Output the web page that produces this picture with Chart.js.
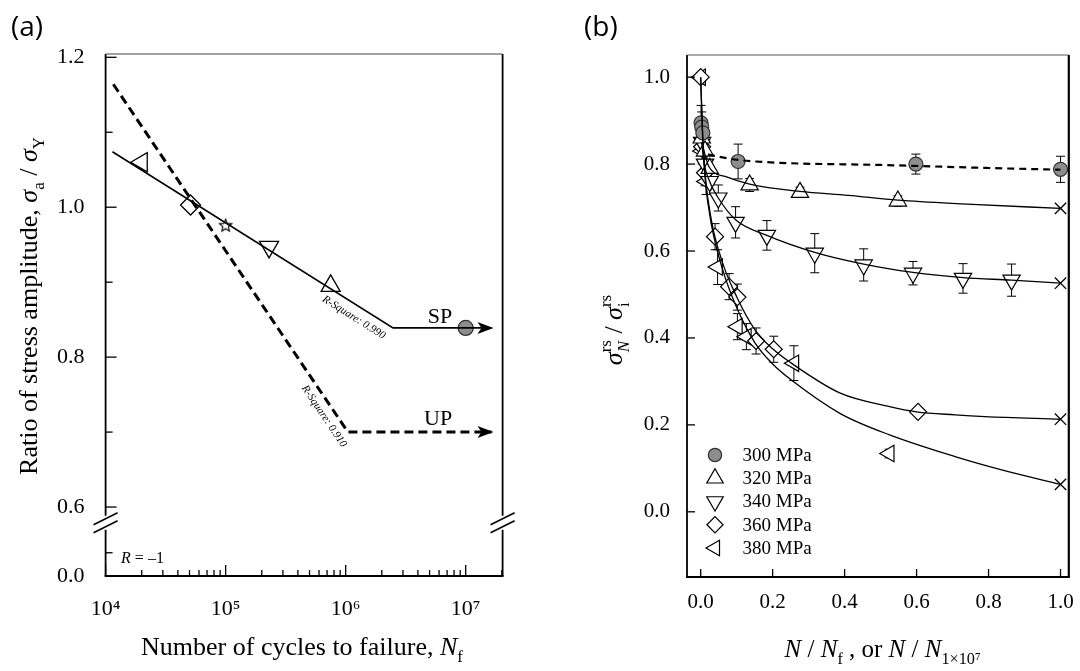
<!DOCTYPE html>
<html>
<head>
<meta charset="utf-8">
<script src="https://cdn.jsdelivr.net/npm/chart.js@4.4.1/dist/chart.umd.min.js"></script>
<style>
  html, body { margin: 0; padding: 0; background: #fff; }
  #wrap { position: relative; width: 1080px; height: 671px; overflow: hidden; }
  canvas { position: absolute; top: 0; }
  #ca { left: 0; }
  #cb { left: 540px; }
</style>
</head>
<body>
<div id="wrap">
  <canvas id="ca" width="540" height="671"></canvas>
  <canvas id="cb" width="540" height="671"></canvas>
</div>
<script>
const SERIF = "'Liberation Serif', 'Times New Roman', serif";
const SANS = "'Open Sans', 'Noto Sans', sans-serif";
Chart.defaults.font.family = SERIF;
Chart.defaults.color = '#000';

// ---------- (a) S-N curves ----------
const A_SP_X = [1.14e4, 2.48e6, 1.64e7];
const A_SP_Y = [1.074, 0.839, 0.839];
const A_UP_X = [1.16e4, 1.045e6, 1.64e7];
const A_UP_Y = [1.164, 0.700, 0.700];
const A_PTS_X = [2.0e4, 5.1e4, 1.0e5, 2.3e5, 7.5e5, 1.0e7];
const A_PTS_Y = [1.060, 1.003, 0.976, 0.947, 0.895, 0.839];
const A_DECADES = [1e4, 1e5, 1e6, 1e7];
const A_DECADE_LABELS = ['10⁴', '10⁵', '10⁶', '10⁷'];
// the first two ticks sit below the axis break (0.0 and 0.1 on the compressed part)
const A_Y_TICKS = [0.508, 0.539, 0.6, 0.7, 0.8, 0.9, 1.0, 1.1, 1.2];
const A_Y_LABELS = ['0.0', '', '0.6', '', '0.8', '', '1.0', '', '1.2'];
const A_BREAK_AT = 0.579;

// ---------- (b) residual stress relaxation ----------
const B_LABELS = ['300 MPa', '320 MPa', '340 MPa', '360 MPa', '380 MPa'];
const B_X_TICKS = [0, 0.2, 0.4, 0.6, 0.8, 1.0];
const B_Y_TICKS = [0, 0.2, 0.4, 0.6, 0.8, 1.0];

const P300_X = [0.001, 0.003, 0.006, 0.104, 0.598, 1.0];
const P300_Y = [0.895, 0.885, 0.872, 0.806, 0.800, 0.788];
const P300_E = [0.04, 0.035, 0.03, 0.04, 0.023, 0.03];
const P320_X = [0.003, 0.012, 0.025, 0.136, 0.276, 0.548];
const P320_Y = [0.860, 0.830, 0.790, 0.752, 0.735, 0.715];
const P320_E = [0.03, 0.03, 0.02, 0.015, 0.012, 0.012];
const P340_X = [0.004, 0.012, 0.025, 0.049, 0.097, 0.184, 0.317, 0.453, 0.590, 0.729, 0.864];
const P340_Y = [0.850, 0.800, 0.760, 0.722, 0.666, 0.636, 0.595, 0.568, 0.549, 0.537, 0.533];
const P340_E = [0.03, 0.03, 0.03, 0.03, 0.036, 0.034, 0.045, 0.037, 0.027, 0.034, 0.037];
const P360_X = [0, 0.004, 0.012, 0.040, 0.079, 0.102, 0.154, 0.203, 0.604];
const P360_Y = [1.0, 0.840, 0.780, 0.633, 0.518, 0.494, 0.393, 0.374, 0.230];
const P360_E = [0.01, 0.03, 0.03, 0.03, 0.03, 0.03, 0.03, 0.03, 0.008];
const P380_X = [0, 0.004, 0.015, 0.047, 0.102, 0.127, 0.259, 0.524];
const P380_Y = [1.0, 0.830, 0.760, 0.563, 0.426, 0.403, 0.342, 0.134];
const P380_E = [0.01, 0.03, 0.03, 0.04, 0.03, 0.03, 0.04, 0.01];

const FIT300_X = [0.02, 0.1, 0.22, 0.5, 0.8, 1.0];
const FIT300_Y = [0.822, 0.810, 0.803, 0.798, 0.791, 0.787];
const FIT320_X = [0.003, 0.023, 0.07, 0.136, 0.276, 0.41, 0.548, 0.74, 1.0];
const FIT320_Y = [0.850, 0.794, 0.771, 0.754, 0.737, 0.728, 0.717, 0.708, 0.698];
const FIT340_X = [0.003, 0.01, 0.025, 0.049, 0.097, 0.184, 0.317, 0.453, 0.59, 0.729, 0.864, 1.0];
const FIT340_Y = [0.850, 0.800, 0.760, 0.722, 0.672, 0.636, 0.597, 0.570, 0.551, 0.539, 0.533, 0.526];
const FIT360_X = [0, 0.005, 0.012, 0.03, 0.06, 0.1, 0.15, 0.2, 0.252, 0.388, 0.525, 0.6, 0.707, 0.79, 1.0];
const FIT360_Y = [1.0, 0.88, 0.78, 0.67, 0.575, 0.495, 0.42, 0.375, 0.342, 0.273, 0.242, 0.230, 0.223, 0.219, 0.213];
const FIT380_X = [0, 0.005, 0.012, 0.03, 0.06, 0.1, 0.15, 0.2, 0.252, 0.388, 0.525, 0.707, 0.834, 1.0];
const FIT380_Y = [1.0, 0.87, 0.77, 0.66, 0.56, 0.47, 0.39, 0.34, 0.303, 0.226, 0.177, 0.127, 0.097, 0.063];

const toXY = (xs, ys) => xs.map((x, i) => ({ x, y: ys[i] }));

// rich text: parts with italic / sub / sup, drawn centred on (x, y) baseline
function partsWidth(ctx, parts, size) {
  let w = 0;
  parts.forEach(p => {
    ctx.font = (p.i ? 'italic ' : '') + size + 'px ' + SERIF;
    p._w = p.t ? ctx.measureText(p.t).width : 0;
    const ss = size * 0.65;
    ctx.font = (p.subI ? 'italic ' : '') + ss + 'px ' + SERIF;
    const a = p.sub ? ctx.measureText(p.sub).width : 0;
    ctx.font = ss + 'px ' + SERIF;
    const b = p.sup ? ctx.measureText(p.sup).width : 0;
    p._sw = Math.max(a, b);
    w += p._w + p._sw;
  });
  return w;
}
function drawParts(ctx, parts, x, y, size, rot, align) {
  ctx.save();
  ctx.translate(x, y);
  if (rot) ctx.rotate(rot);
  ctx.fillStyle = '#000';
  ctx.textAlign = 'left';
  ctx.textBaseline = 'alphabetic';
  const w = partsWidth(ctx, parts, size);
  let cx = align === 'left' ? 0 : -w / 2;
  parts.forEach(p => {
    if (p.t) {
      ctx.font = (p.i ? 'italic ' : '') + size + 'px ' + SERIF;
      ctx.fillText(p.t, cx, 0);
      cx += p._w;
    }
    const ss = size * 0.65;
    if (p.sub) {
      ctx.font = (p.subI ? 'italic ' : '') + ss + 'px ' + SERIF;
      ctx.fillText(p.sub, cx, size * 0.28);
    }
    if (p.sup) {
      ctx.font = ss + 'px ' + SERIF;
      ctx.fillText(p.sup, cx, -size * 0.42);
    }
    cx += p._sw;
  });
  ctx.restore();
}

function line(ctx, x1, y1, x2, y2) {
  ctx.beginPath(); ctx.moveTo(x1, y1); ctx.lineTo(x2, y2); ctx.stroke();
}

function makeStar(r) {
  const c = document.createElement('canvas');
  const s = Math.ceil(r * 2 + 4);
  c.width = c.height = s;
  const g = c.getContext('2d');
  g.translate(s / 2, s / 2 + 0.5);
  g.beginPath();
  for (let k = 0; k < 10; k++) {
    const rr = k % 2 ? r * 0.45 : r;
    const an = -Math.PI / 2 + k * Math.PI / 5;
    g.lineTo(rr * Math.cos(an), rr * Math.sin(an));
  }
  g.closePath();
  g.fillStyle = '#fff'; g.fill();
  g.lineWidth = 1.1; g.strokeStyle = '#000'; g.stroke();
  return c;
}

// ================= panel (a) =================
const panelA = {
  id: 'panelA',
  afterDraw(chart) {
    const { ctx, chartArea: a } = chart;
    const xs = chart.scales.x, ys = chart.scales.y;
    const yb = ys.getPixelForValue(A_BREAK_AT);
    ctx.save();
    ctx.strokeStyle = '#000';

    // frame with a broken y axis
    ctx.lineWidth = 1.8;
    [a.left, a.right].forEach(x0 => {
      line(ctx, x0, a.top, x0, yb - 7);
      line(ctx, x0, yb + 7, x0, a.bottom);
    });
    line(ctx, a.left - 1, a.bottom, a.right + 1, a.bottom);
    ctx.lineWidth = 1; ctx.strokeStyle = '#444';
    line(ctx, a.left, a.top, a.right, a.top);
    ctx.strokeStyle = '#000'; ctx.lineWidth = 1.5;
    [a.left, a.right].forEach(x0 => {
      line(ctx, x0 - 12, yb + 2, x0 + 12, yb - 10);
      line(ctx, x0 - 12, yb + 10, x0 + 12, yb - 2);
    });

    // inward ticks
    ctx.lineWidth = 1.3;
    xs.ticks.forEach(t => {
      const px = xs.getPixelForValue(t.value);
      line(ctx, px, a.bottom, px, a.bottom - (t.label ? 11 : 6));
    });
    ys.ticks.forEach(t => {
      const py = ys.getPixelForValue(t.value);
      line(ctx, a.left, py, a.left + (t.label ? 11 : 7), py);
    });

    // arrow heads at the end of both curves
    [0, 1].forEach(i => {
      const pts = chart.getDatasetMeta(i).data;
      const p = pts[pts.length - 1];
      ctx.fillStyle = '#000';
      ctx.beginPath();
      ctx.moveTo(p.x + 2, p.y);
      ctx.lineTo(p.x - 14, p.y - 6);
      ctx.lineTo(p.x - 10, p.y);
      ctx.lineTo(p.x - 14, p.y + 6);
      ctx.closePath();
      ctx.fill();
    });

    // labels on the curves
    ctx.fillStyle = '#000';
    ctx.font = '22px ' + SERIF;
    ctx.textAlign = 'center'; ctx.textBaseline = 'alphabetic';
    ctx.fillText('SP', xs.getPixelForValue(6.1e6), ys.getPixelForValue(0.845));
    ctx.fillText('UP', xs.getPixelForValue(5.9e6), ys.getPixelForValue(0.709));

    const rsq = (i, t, off, text) => {
      const pts = chart.getDatasetMeta(i).data;
      const p0 = pts[0], p1 = pts[1];
      const ang = Math.atan2(p1.y - p0.y, p1.x - p0.x);
      const cx = p0.x + (p1.x - p0.x) * t - Math.sin(ang) * off;
      const cy = p0.y + (p1.y - p0.y) * t + Math.cos(ang) * off;
      ctx.save();
      ctx.translate(cx, cy); ctx.rotate(ang);
      ctx.font = 'italic 11px ' + SERIF;
      ctx.textAlign = 'center'; ctx.textBaseline = 'middle';
      ctx.fillText(text, 0, 0);
      ctx.restore();
    };
    rsq(0, 0.883, 12, 'R-Square: 0.990');
    rsq(1, 0.937, 11, 'R-Square: 0.910');

    drawParts(ctx, [{ t: 'R', i: true }, { t: ' = \u20131' }], a.left + 15.5, a.bottom - 13, 16, 0, 'left');

    // axis titles and panel tag
    drawParts(ctx, [{ t: 'Number of cycles to failure, ' }, { t: 'N', i: true, sub: 'f' }], 302, 655, 26, 0);
    drawParts(ctx, [{ t: 'Ratio of stress amplitude, ' }, { t: 'σ', i: true, sub: 'a' }, { t: ' / ' }, { t: 'σ', i: true, sub: 'Y' }],
      37, 306, 26, -Math.PI / 2);
    ctx.font = '28px ' + SANS;
    ctx.textAlign = 'left'; ctx.textBaseline = 'alphabetic';
    ctx.fillText('(a)', 11, 36);
    ctx.restore();
  }
};

const starImg = makeStar(6.5);

new Chart(document.getElementById('ca'), {
  type: 'scatter',
  data: {
    datasets: [
      { data: toXY(A_SP_X, A_SP_Y), showLine: true, borderColor: '#000', borderWidth: 1.6, pointRadius: 0 },
      { data: toXY(A_UP_X, A_UP_Y), showLine: true, borderColor: '#000', borderWidth: 3, borderDash: [9, 5], pointRadius: 0 },
      {
        data: toXY(A_PTS_X, A_PTS_Y), showLine: false,
        pointStyle: ['triangle', 'rectRot', starImg, 'triangle', 'triangle', 'circle'],
        pointRotation: [270, 0, 0, 180, 0, 0],
        pointRadius: [11, 10, 7, 11, 11, 7.5],
        pointBackgroundColor: ['#fff', '#fff', '#fff', '#fff', '#fff', '#8d8d8d'],
        pointBorderColor: ['#000', '#000', '#000', '#000', '#000', '#333'],
        pointBorderWidth: 1.3
      }
    ]
  },
  options: {
    responsive: false, animation: false,
    layout: { padding: { left: 0, top: 54, right: 37.4, bottom: 55 } },
    plugins: { legend: { display: false }, tooltip: { enabled: false } },
    scales: {
      x: {
        type: 'logarithmic', min: 1e4, max: 2.03e7,
        grid: { display: false }, border: { display: false },
        afterFit: s => { s.height = 40; },
        afterBuildTicks: s => {
          const t = [];
          A_DECADES.forEach(d => { for (let m = 1; m <= 9; m++) if (m * d <= s.max) t.push({ value: m * d }); });
          s.ticks = t;
        },
        ticks: {
          autoSkip: false, maxRotation: 0, padding: 12, color: '#000',
          font: { size: 22 },
          callback: v => { const i = A_DECADES.indexOf(v); return i >= 0 ? A_DECADE_LABELS[i] : ''; }
        }
      },
      y: {
        type: 'linear', min: 0.508, max: 1.2044,
        grid: { display: false }, border: { display: false },
        afterFit: s => { s.width = 105.6; },
        afterBuildTicks: s => { s.ticks = A_Y_TICKS.map(v => ({ value: v })); },
        ticks: {
          autoSkip: false, padding: 13, color: '#000',
          font: { size: 22 },
          callback: (v, i) => A_Y_LABELS[i]
        }
      }
    }
  },
  plugins: [panelA]
});

// ================= panel (b) =================
const B_MARK = [
  { pointStyle: 'circle', rotation: 0, radius: 7, fill: '#8d8d8d', stroke: '#333' },
  { pointStyle: 'triangle', rotation: 0, radius: 10, fill: '#fff', stroke: '#000' },
  { pointStyle: 'triangle', rotation: 180, radius: 10, fill: '#fff', stroke: '#000' },
  { pointStyle: 'rectRot', rotation: 0, radius: 8.5, fill: '#fff', stroke: '#000' },
  { pointStyle: 'triangle', rotation: 270, radius: 9.5, fill: '#fff', stroke: '#000' }
];

const fitSet = (xs, ys, dashed) => ({
  data: toXY(xs, ys), showLine: true, borderColor: '#000',
  borderWidth: dashed ? 2.2 : 1.3, borderDash: dashed ? [7, 5] : [],
  cubicInterpolationMode: 'monotone',
  pointStyle: 'crossRot', pointBorderColor: '#000', pointBorderWidth: 1.3,
  pointRadius: c => (!dashed && c.dataIndex === xs.length - 1) ? 8 : 0
});
const ptSet = (xs, ys, errs, m) => ({
  data: toXY(xs, ys), errors: errs, showLine: false,
  pointStyle: m.pointStyle, pointRotation: m.rotation, pointRadius: m.radius,
  pointBackgroundColor: m.fill, pointBorderColor: m.stroke, pointBorderWidth: 1.2
});

const errorBars = {
  id: 'errorBars',
  beforeDatasetsDraw(chart) {
    const { ctx } = chart;
    const xs = chart.scales.x, ys = chart.scales.y;
    ctx.save();
    ctx.strokeStyle = '#000'; ctx.lineWidth = 1;
    chart.data.datasets.forEach(ds => {
      if (!ds.errors) return;
      ds.data.forEach((p, i) => {
        const e = ds.errors[i];
        const px = xs.getPixelForValue(p.x);
        const top = ys.getPixelForValue(p.y + e), bot = ys.getPixelForValue(p.y - e);
        line(ctx, px, top, px, bot);
        line(ctx, px - 4.5, top, px + 4.5, top);
        line(ctx, px - 4.5, bot, px + 4.5, bot);
      });
    });
    ctx.restore();
  }
};

const panelB = {
  id: 'panelB',
  afterDraw(chart) {
    const { ctx, chartArea: a } = chart;
    const xs = chart.scales.x, ys = chart.scales.y;
    ctx.save();
    ctx.strokeStyle = '#000';
    ctx.lineWidth = 1.8;
    line(ctx, a.left, a.top, a.left, a.bottom + 1);
    line(ctx, a.left - 1, a.bottom, a.right + 1, a.bottom);
    ctx.lineWidth = 2.2;
    line(ctx, a.right, a.top, a.right, a.bottom);
    ctx.lineWidth = 1; ctx.strokeStyle = '#555';
    line(ctx, a.left, a.top, a.right, a.top);

    ctx.strokeStyle = '#000'; ctx.lineWidth = 1.3;
    xs.ticks.forEach(t => {
      const px = xs.getPixelForValue(t.value);
      line(ctx, px, a.bottom, px, a.bottom - 8);
    });
    ys.ticks.forEach(t => {
      const py = ys.getPixelForValue(t.value);
      line(ctx, a.left, py, a.left + 8, py);
    });

    // legend
    B_MARK.forEach((m, i) => {
      const yy = a.bottom - 122 + i * 23.25;
      ctx.fillStyle = m.fill; ctx.strokeStyle = m.stroke; ctx.lineWidth = 1.2;
      Chart.helpers.drawPoint(ctx, { pointStyle: m.pointStyle, rotation: m.rotation, radius: m.radius * 0.95, borderWidth: 1.2 }, a.left + 28, yy);
      ctx.fillStyle = '#000';
      ctx.font = '19px ' + SERIF;
      ctx.textAlign = 'left'; ctx.textBaseline = 'middle';
      ctx.fillText(B_LABELS[i], a.left + 55.5, yy + 1);
    });

    // axis titles and panel tag
    drawParts(ctx, [
      { t: 'N', i: true }, { t: ' / ' }, { t: 'N', i: true, sub: 'f' }, { t: ' , or ' },
      { t: 'N', i: true }, { t: ' / ' }, { t: 'N', i: true, sub: '1×10⁷' }
    ], 342.6, 657, 25, 0);
    drawParts(ctx, [
      { t: 'σ', i: true, sub: 'N', subI: true, sup: 'rs' }, { t: ' / ' }, { t: 'σ', i: true, sub: 'i', sup: 'rs' }
    ], 82, 330, 26, -Math.PI / 2);
    ctx.font = '28px ' + SANS;
    ctx.textAlign = 'left'; ctx.textBaseline = 'alphabetic';
    ctx.fillText('(b)', 44, 36);
    ctx.restore();
  }
};

new Chart(document.getElementById('cb'), {
  type: 'scatter',
  data: {
    datasets: [
      fitSet(FIT300_X, FIT300_Y, true),
      fitSet(FIT320_X, FIT320_Y, false),
      fitSet(FIT340_X, FIT340_Y, false),
      fitSet(FIT360_X, FIT360_Y, false),
      fitSet(FIT380_X, FIT380_Y, false),
      ptSet(P300_X, P300_Y, P300_E, B_MARK[0]),
      ptSet(P320_X, P320_Y, P320_E, B_MARK[1]),
      ptSet(P340_X, P340_Y, P340_E, B_MARK[2]),
      ptSet(P360_X, P360_Y, P360_E, B_MARK[3]),
      ptSet(P380_X, P380_Y, P380_E, B_MARK[4])
    ]
  },
  options: {
    responsive: false, animation: false,
    layout: { padding: { left: 0, top: 55, right: 4, bottom: 54 } },
    plugins: { legend: { display: false }, tooltip: { enabled: false } },
    scales: {
      x: {
        type: 'linear', min: -0.038, max: 1.023,
        grid: { display: false }, border: { display: false },
        afterFit: s => { s.height = 40; },
        afterBuildTicks: s => { s.ticks = B_X_TICKS.map(v => ({ value: v })); },
        ticks: {
          autoSkip: false, maxRotation: 0, padding: 5, color: '#000',
          font: { size: 21 },
          callback: v => v.toFixed(1)
        }
      },
      y: {
        type: 'linear', min: -0.15, max: 1.051,
        grid: { display: false }, border: { display: false },
        afterFit: s => { s.width = 147; },
        afterBuildTicks: s => { s.ticks = B_Y_TICKS.map(v => ({ value: v })); },
        ticks: {
          autoSkip: false, padding: 9, color: '#000',
          font: { size: 21 },
          callback: v => v.toFixed(1)
        }
      }
    }
  },
  plugins: [errorBars, panelB]
});
</script>
</body>
</html>
